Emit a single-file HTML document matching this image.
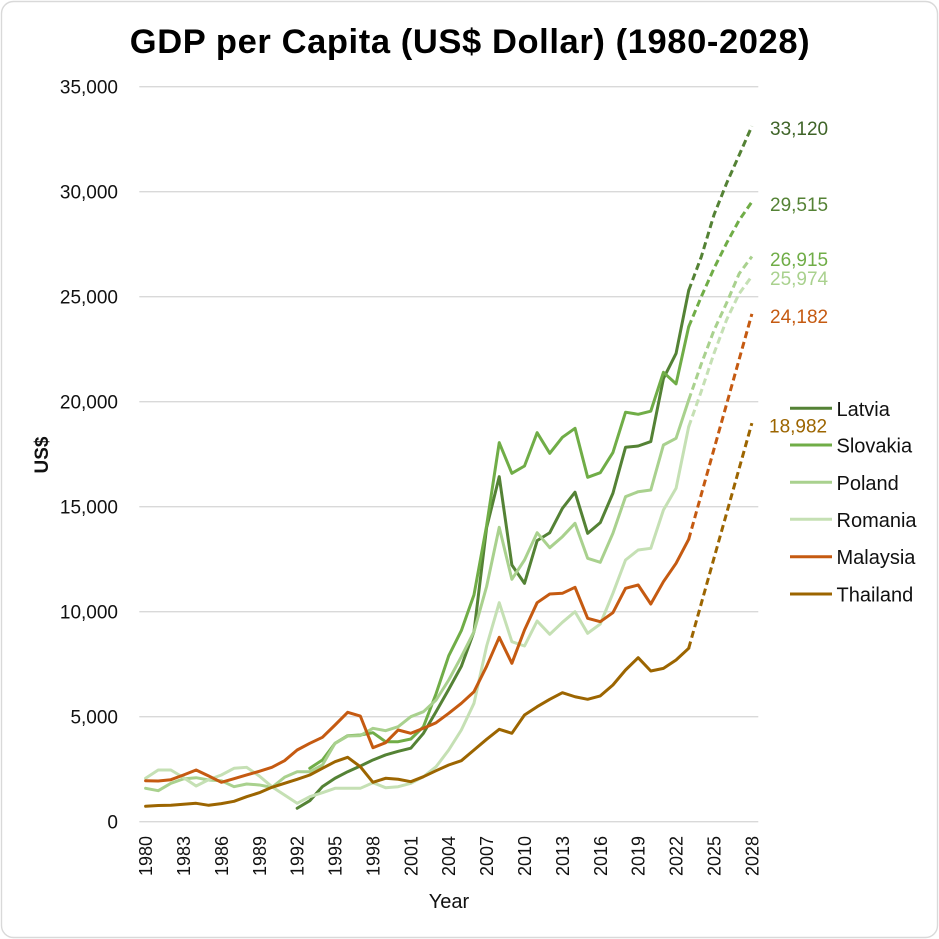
<!DOCTYPE html>
<html>
<head>
<meta charset="utf-8">
<style>
  html,body{margin:0;padding:0;background:#fff;}
  svg{display:block;font-family:"Liberation Sans",Arial,sans-serif;}
</style>
</head>
<body>
<svg width="939" height="939" viewBox="0 0 939 939" xmlns="http://www.w3.org/2000/svg">
  <rect x="1.5" y="1.5" width="936" height="936" rx="12" ry="12" fill="#fff" stroke="#d9d9d9" stroke-width="1.4"/>

  <!-- Title -->
  <text x="470" y="53" text-anchor="middle" font-size="34.5" font-weight="bold" letter-spacing="0.6" fill="#000">GDP per Capita (US$ Dollar) (1980-2028)</text>

  <!-- Gridlines -->
  <g stroke="#d9d9d9" stroke-width="1.4">
    <line x1="139.3" y1="821.7" x2="758.3" y2="821.7"/>
    <line x1="139.3" y1="716.7" x2="758.3" y2="716.7"/>
    <line x1="139.3" y1="611.7" x2="758.3" y2="611.7"/>
    <line x1="139.3" y1="506.7" x2="758.3" y2="506.7"/>
    <line x1="139.3" y1="401.7" x2="758.3" y2="401.7"/>
    <line x1="139.3" y1="296.7" x2="758.3" y2="296.7"/>
    <line x1="139.3" y1="191.7" x2="758.3" y2="191.7"/>
    <line x1="139.3" y1="86.7" x2="758.3" y2="86.7"/>
  </g>

  <!-- Y tick labels -->
  <g font-size="19" fill="#111" text-anchor="end">
    <text x="118" y="828.7">0</text>
    <text x="118" y="723.7">5,000</text>
    <text x="118" y="618.7">10,000</text>
    <text x="118" y="513.7">15,000</text>
    <text x="118" y="408.7">20,000</text>
    <text x="118" y="303.7">25,000</text>
    <text x="118" y="198.7">30,000</text>
    <text x="118" y="93.7">35,000</text>
  </g>

  <!-- X tick labels -->
  <g font-size="18" fill="#111" text-anchor="end">
    <text transform="translate(145.6 836) rotate(-90)" dy="0.36em">1980</text>
    <text transform="translate(183.5 836) rotate(-90)" dy="0.36em">1983</text>
    <text transform="translate(221.4 836) rotate(-90)" dy="0.36em">1986</text>
    <text transform="translate(259.3 836) rotate(-90)" dy="0.36em">1989</text>
    <text transform="translate(297.2 836) rotate(-90)" dy="0.36em">1992</text>
    <text transform="translate(335.1 836) rotate(-90)" dy="0.36em">1995</text>
    <text transform="translate(372.9 836) rotate(-90)" dy="0.36em">1998</text>
    <text transform="translate(410.8 836) rotate(-90)" dy="0.36em">2001</text>
    <text transform="translate(448.7 836) rotate(-90)" dy="0.36em">2004</text>
    <text transform="translate(486.6 836) rotate(-90)" dy="0.36em">2007</text>
    <text transform="translate(524.5 836) rotate(-90)" dy="0.36em">2010</text>
    <text transform="translate(562.4 836) rotate(-90)" dy="0.36em">2013</text>
    <text transform="translate(600.3 836) rotate(-90)" dy="0.36em">2016</text>
    <text transform="translate(638.2 836) rotate(-90)" dy="0.36em">2019</text>
    <text transform="translate(676.1 836) rotate(-90)" dy="0.36em">2022</text>
    <text transform="translate(714.0 836) rotate(-90)" dy="0.36em">2025</text>
    <text transform="translate(751.9 836) rotate(-90)" dy="0.36em">2028</text>
  </g>

  <!-- Axis titles -->
  <text x="449" y="908" text-anchor="middle" font-size="20" fill="#111">Year</text>
  <text transform="translate(41 455) rotate(-90)" text-anchor="middle" dy="0.36em" font-size="19" font-weight="bold" fill="#111">US$</text>

  <!-- Solid series -->
  <g transform="translate(145.6 821.7) scale(12.63 -0.021)" fill="none" stroke-width="3" stroke-linejoin="round" stroke-linecap="round">
    <polyline vector-effect="non-scaling-stroke" stroke="#548235" points="12,640 13,1000 14,1670 15,2070 16,2380 17,2650 18,2940 19,3180 20,3350 21,3500 22,4210 23,5240 24,6300 25,7400 26,9050 27,14000 28,16430 29,12224 30,11350 31,13383 32,13760 33,14920 34,15690 35,13730 36,14240 37,15640 38,17830 39,17890 40,18100 41,21100 42,22300 43,25300"/>
    <polyline vector-effect="non-scaling-stroke" stroke="#70ad47" points="13,2543 14,2938 15,3733 16,4095 17,4128 18,4238 19,3810 20,3810 21,3938 22,4524 23,6100 24,7900 25,9100 26,10800 27,14100 28,18050 29,16590 30,16938 31,18524 32,17543 33,18305 34,18733 35,16400 36,16619 37,17580 38,19500 39,19400 40,19550 41,21400 42,20850 43,23570"/>
    <polyline vector-effect="non-scaling-stroke" stroke="#a9d18e" points="0,1590 1,1476 2,1829 3,2040 4,2095 5,1986 6,1950 7,1667 8,1795 9,1750 10,1635 11,2114 12,2381 13,2381 14,2700 15,3733 16,4080 17,4100 18,4448 19,4333 20,4524 21,5000 22,5238 23,5795 24,6748 25,7857 26,9048 27,11200 28,14019 29,11543 30,12462 31,13762 32,13048 33,13571 34,14210 35,12543 36,12352 37,13733 38,15476 39,15714 40,15795 41,17938 42,18257 43,20081"/>
    <polyline vector-effect="non-scaling-stroke" stroke="#c5e0b4" points="0,2067 1,2462 2,2462 3,2100 4,1700 5,2000 6,2224 7,2543 8,2590 9,2176 10,1667 11,1271 12,876 13,1190 14,1381 15,1590 16,1590 17,1590 18,1857 19,1619 20,1667 21,1829 22,2143 23,2619 24,3414 25,4367 26,5638 27,8360 28,10429 29,8571 30,8367 31,9557 32,8924 33,9495 34,10000 35,8971 36,9414 37,10876 38,12462 39,12938 40,13019 41,14843 42,15876 43,18810"/>
    <polyline vector-effect="non-scaling-stroke" stroke="#c55a11" points="0,1952 1,1936 2,2000 3,2224 4,2462 5,2176 6,1876 7,2050 8,2224 9,2400 10,2590 11,2905 12,3414 13,3733 14,4019 15,4605 16,5210 17,5033 18,3524 19,3762 20,4367 21,4210 22,4448 23,4714 24,5162 25,5638 26,6190 27,7400 28,8781 29,7543 30,9129 31,10429 32,10843 33,10876 34,11162 35,9686 36,9524 37,9952 38,11114 39,11271 40,10367 41,11429 42,12305 43,13448"/>
    <polyline vector-effect="non-scaling-stroke" stroke="#9c6500" points="0,733 1,770 2,785 3,830 4,876 5,781 6,860 7,970 8,1190 9,1381 10,1638 11,1829 12,2019 13,2224 14,2543 15,2857 16,3066 17,2619 18,1876 19,2067 20,2020 21,1905 22,2143 23,2429 24,2700 25,2905 26,3414 27,3924 28,4400 29,4210 30,5081 31,5476 32,5829 33,6143 34,5950 35,5829 36,5990 37,6510 38,7224 39,7810 40,7176 41,7300 42,7700 43,8257"/>
  </g>

  <!-- Dashed projections -->
  <g fill="none" stroke-width="3" stroke-dasharray="7 4" stroke-linejoin="round">
    <polyline stroke="#548235" points="688.7,290.4 701.3,256.8 714.0,214.8 726.6,183.3 739.2,155.0 751.9,126.2"/>
    <polyline stroke="#70ad47" points="688.7,326.7 701.3,296.7 714.0,268.4 726.6,243.2 739.2,220.1 751.9,201.9"/>
    <polyline stroke="#a9d18e" points="688.7,400.0 701.3,363.9 714.0,330.3 726.6,303.0 739.2,273.6 751.9,256.5"/>
    <polyline stroke="#c5e0b4" points="688.7,426.7 701.3,391.2 714.0,353.4 726.6,319.8 739.2,293.6 751.9,276.2"/>
    <polyline stroke="#c55a11" points="688.7,539.3 751.9,313.9"/>
    <polyline stroke="#9c6500" points="688.7,648.3 751.9,423.1"/>
  </g>

  <!-- End labels -->
  <g font-size="19">
    <text x="770" y="135" fill="#3f6428">33,120</text>
    <text x="770" y="211" fill="#548235">29,515</text>
    <text x="770" y="266" fill="#70ad47">26,915</text>
    <text x="770" y="285" fill="#a9d18e">25,974</text>
    <text x="770" y="323" fill="#c55a11">24,182</text>
    <text x="769" y="432.7" fill="#9c6500">18,982</text>
  </g>

  <!-- Legend -->
  <g stroke-width="3">
    <line x1="790" y1="408.3" x2="832" y2="408.3" stroke="#548235"/>
    <line x1="790" y1="445" x2="832" y2="445" stroke="#70ad47"/>
    <line x1="790" y1="482.3" x2="832" y2="482.3" stroke="#a9d18e"/>
    <line x1="790" y1="519.3" x2="832" y2="519.3" stroke="#c5e0b4"/>
    <line x1="790" y1="556.7" x2="832" y2="556.7" stroke="#c55a11"/>
    <line x1="790" y1="594" x2="832" y2="594" stroke="#9c6500"/>
  </g>
  <g font-size="20" fill="#111">
    <text x="836.5" y="415.8">Latvia</text>
    <text x="836.5" y="452.5">Slovakia</text>
    <text x="836.5" y="489.8">Poland</text>
    <text x="836.5" y="526.8">Romania</text>
    <text x="836.5" y="564.2">Malaysia</text>
    <text x="836.5" y="601.5">Thailand</text>
  </g>
</svg>
</body>
</html>
